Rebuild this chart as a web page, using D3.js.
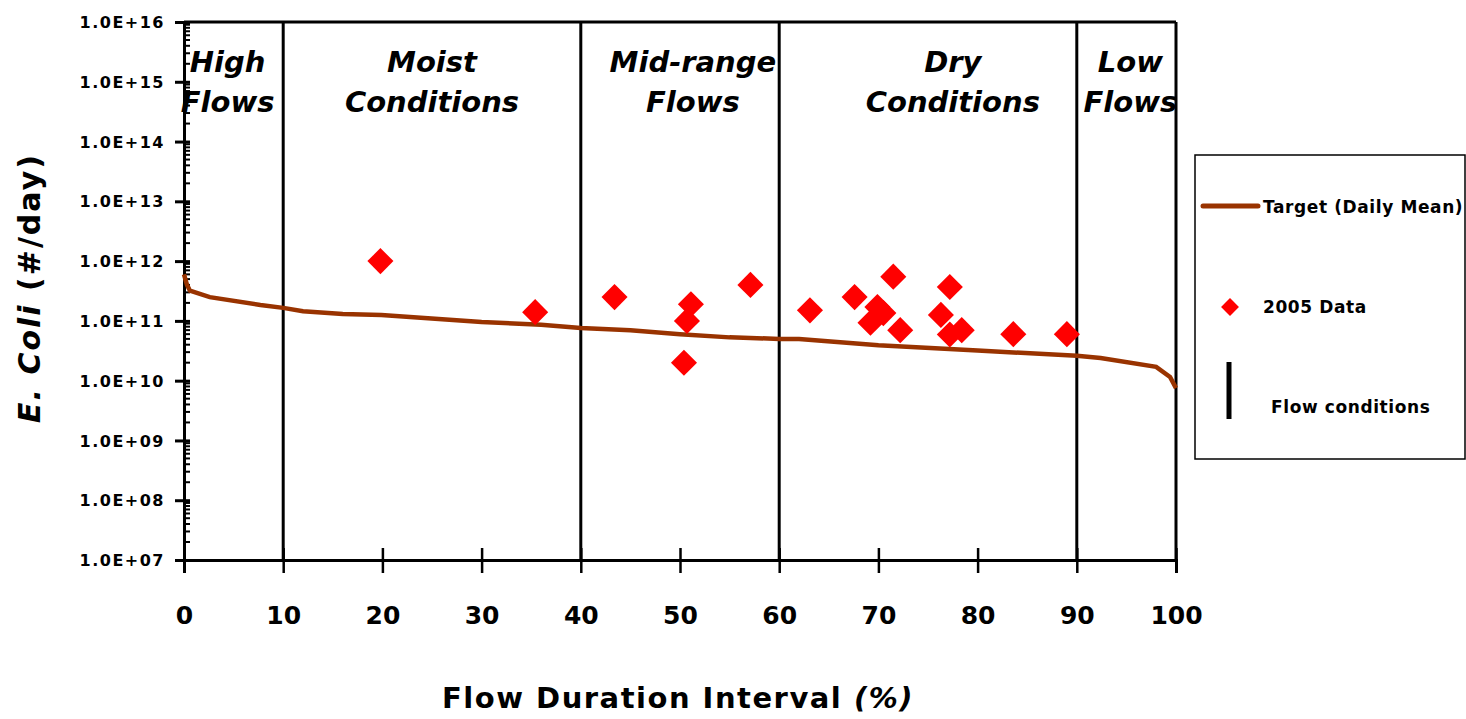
<html>
<head>
<meta charset="utf-8" />
<script src="https://d3js.org/d3.v7.min.js"></script>
<style>
    body { margin: 0px; background: #fff; }
    text { font-family: "Comic Sans MS", "DejaVu Sans", sans-serif; font-weight: bold; fill: #000; }
</style>
</head>
<body>
<script>
// target curve (flow duration %, E. coli #/day)
var targetPct = [0, 0.3, 0.6, 2.6, 7.7, 10, 12, 16, 19.9, 30, 36, 40, 45, 50, 55, 60, 62, 70, 80, 90, 92.4, 98, 99.4, 100];
var targetVal = [6e11, 4e11, 3.2e11, 2.5e11, 1.85e11, 1.65e11, 1.45e11, 1.3e11, 1.26e11, 9.6e10, 8.6e10, 7.6e10, 7e10, 6e10, 5.3e10, 5e10, 5e10, 3.9e10, 3.2e10, 2.6e10, 2.4e10, 1.7e10, 1.15e10, 7.5e9];

// 2005 sample data
var dataPct = [19.8, 35.4, 43.4, 51.1, 50.7, 50.4, 57.1, 63.1, 67.6, 71.5, 69.9, 70.5, 69.2, 72.2, 77.2, 76.3, 77.2, 78.4, 83.6, 89.0];
var dataVal = [1.0e12, 1.4e11, 2.5e11, 1.9e11, 1.0e11, 2.0e10, 4.0e11, 1.5e11, 2.5e11, 5.5e11, 1.7e11, 1.35e11, 9.3e10, 7.0e10, 3.7e11, 1.26e11, 5.9e10, 7.0e10, 6.0e10, 6.0e10];

// flow condition zones
var zoneBreaks = [10, 40, 60, 90, 100];
var zoneLabels = [["High", "Flows"], ["Moist", "Conditions"], ["Mid-range", "Flows"], ["Dry", "Conditions"], ["Low", "Flows"]];
var zoneCenters = [4.4, 25, 51.3, 77.5, 95.4];

var xTicks = [0, 10, 20, 30, 40, 50, 60, 70, 80, 90, 100];
var yTicks = [1e7, 1e8, 1e9, 1e10, 1e11, 1e12, 1e13, 1e14, 1e15, 1e16];

var width = 1466, height = 719;
var svg = d3.select("body").append("svg")
    .attr("width", width)
    .attr("height", height);

var x = d3.scaleLinear().domain([0, 100]).range([184, 1176]);
var y = d3.scaleLog().domain([1e7, 1e16]).range([560, 22]);

// minor log ticks on inside of y axis
var minor = [];
yTicks.slice(0, -1).forEach(function(t) {
    for (var k = 2; k <= 9; k++) minor.push(t * k);
});
svg.append("g").selectAll("line").data(minor).enter().append("line")
    .attr("x1", x(0)).attr("x2", x(0) + 6)
    .attr("y1", d => y(d)).attr("y2", d => y(d))
    .attr("stroke", "#000").attr("stroke-width", 2);

// y axis
var yAxis = svg.append("g")
    .attr("transform", "translate(" + x(0) + ",0)")
    .call(d3.axisLeft(y).tickValues(yTicks).tickSize(9).tickPadding(10)
        .tickFormat(d => "1.0E+" + String(Math.round(Math.log10(d))).padStart(2, "0")));
yAxis.select(".domain").attr("stroke-width", 3);
yAxis.selectAll(".tick line").attr("stroke-width", 3).attr("x2", 6).attr("x1", -9);
yAxis.selectAll(".tick text").style("font-size", "16px").attr("dy", "0.35em").attr("letter-spacing", "1.5px");

// x axis
var xAxis = svg.append("g")
    .attr("transform", "translate(0," + y(1e7) + ")")
    .call(d3.axisBottom(x).tickValues(xTicks).tickSize(13).tickPadding(33));
xAxis.select(".domain").attr("stroke-width", 3);
xAxis.selectAll(".tick line").attr("stroke-width", 2.5).attr("y1", -12);
xAxis.selectAll(".tick text").style("font-size", "25px");

// top border
svg.append("line")
    .attr("x1", x(0)).attr("x2", x(100))
    .attr("y1", y(1e16)).attr("y2", y(1e16))
    .attr("stroke", "#000").attr("stroke-width", 3);

// zone dividers
svg.append("g").selectAll("line").data(zoneBreaks).enter().append("line")
    .attr("x1", d => x(d)).attr("x2", d => x(d))
    .attr("y1", y(1e16)).attr("y2", y(1e7))
    .attr("stroke", "#000").attr("stroke-width", 3);

// zone labels
zoneLabels.forEach(function(lines, i) {
    lines.forEach(function(s, j) {
        svg.append("text")
            .attr("x", x(zoneCenters[i]))
            .attr("y", 72 + j * 40)
            .attr("text-anchor", "middle")
            .style("font-size", "29px")
            .style("font-style", "italic")
            .text(s);
    });
});

// target line
var line = d3.line()
    .x((d, i) => x(targetPct[i]))
    .y(d => y(d));
svg.append("path")
    .datum(targetVal)
    .attr("d", line)
    .attr("fill", "none")
    .attr("stroke", "#993300")
    .attr("stroke-width", 4.5);

// data points
var diamond = d3.symbol().type(d3.symbolSquare).size(340);
svg.append("g").selectAll("path").data(dataVal).enter().append("path")
    .attr("d", diamond)
    .attr("transform", (d, i) => "translate(" + x(dataPct[i]) + "," + y(d) + ") rotate(45)")
    .attr("fill", "#ff0000");

// axis titles
var yt = svg.append("text")
    .attr("transform", "translate(40,288) rotate(-90)")
    .attr("text-anchor", "middle")
    .attr("letter-spacing", "2px")
    .style("font-size", "30px");
yt.append("tspan").style("font-style", "italic").text("E. Coli ");
yt.append("tspan").text("(#/day)");

var xt = svg.append("text")
    .attr("x", 678).attr("y", 708)
    .attr("text-anchor", "middle")
    .attr("letter-spacing", "1.5px")
    .style("font-size", "29px");
xt.append("tspan").text("Flow Duration Interval ");
xt.append("tspan").style("font-style", "italic").text("(%)");

// legend
var lg = svg.append("g");
lg.append("rect")
    .attr("x", 1195).attr("y", 155).attr("width", 270).attr("height", 304)
    .attr("fill", "#fff").attr("stroke", "#000").attr("stroke-width", 1.5);
lg.append("line")
    .attr("x1", 1203).attr("x2", 1258).attr("y1", 206).attr("y2", 206)
    .attr("stroke", "#993300").attr("stroke-width", 5).attr("stroke-linecap", "round");
lg.append("text").attr("x", 1263).attr("y", 213).attr("letter-spacing", "0.6px").style("font-size", "17px").text("Target (Daily Mean)");
lg.append("path")
    .attr("d", d3.symbol().type(d3.symbolSquare).size(160))
    .attr("transform", "translate(1230,307) rotate(45)")
    .attr("fill", "#ff0000");
lg.append("text").attr("x", 1263).attr("y", 313).attr("letter-spacing", "0.6px").style("font-size", "17px").text("2005 Data");
lg.append("line")
    .attr("x1", 1229).attr("x2", 1229).attr("y1", 362).attr("y2", 419)
    .attr("stroke", "#000").attr("stroke-width", 5);
lg.append("text").attr("x", 1271).attr("y", 413).attr("letter-spacing", "0.6px").style("font-size", "17px").text("Flow conditions");
</script>
</body>
</html>
